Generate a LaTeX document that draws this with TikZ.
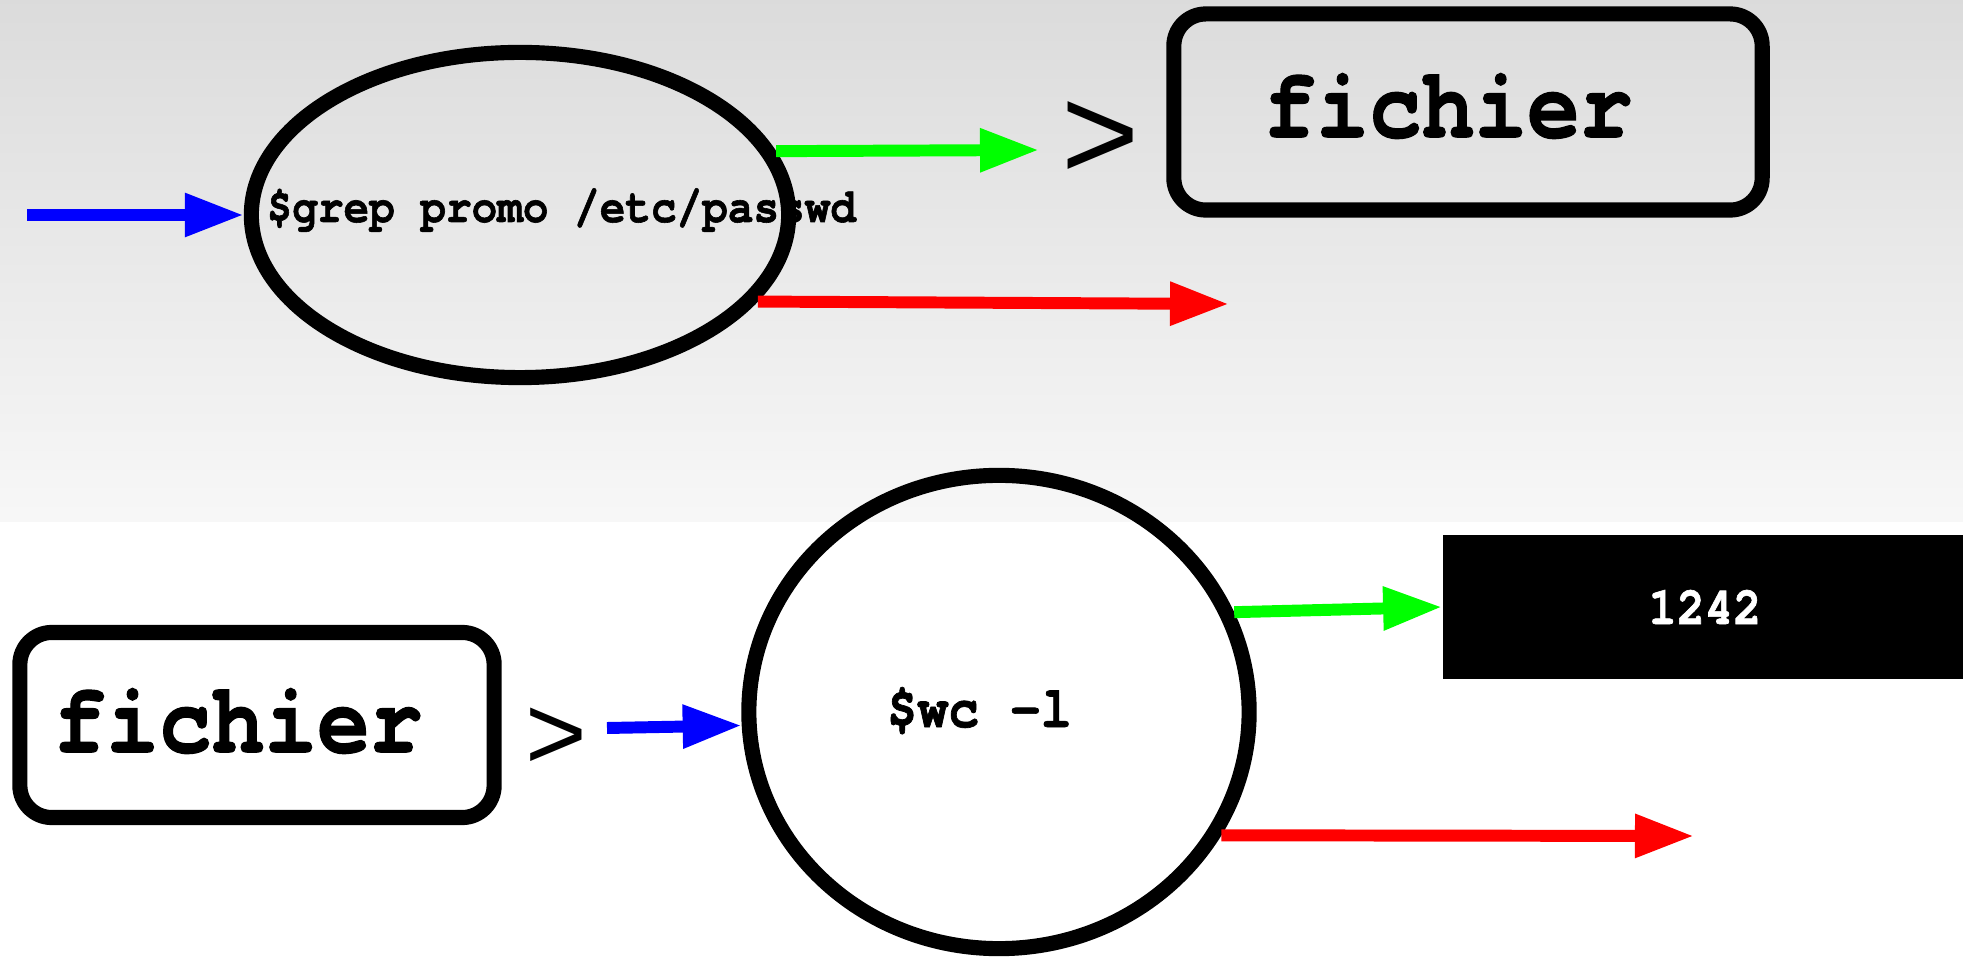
\documentclass[tikz,border=0pt]{standalone}
\usepackage{fontspec}
\setmonofont{texgyrecursor}[Extension=.otf,UprightFont=*-regular,BoldFont=*-bold,
  BoldFeatures={FakeBold=1.2},Ligatures=NoCommon,FakeStretch=0.88]
\setsansfont{Liberation Sans}
\usetikzlibrary{positioning,arrows.meta,shapes.geometric}

\begin{document}
\begin{tikzpicture}[x=0.01cm,y=-0.01cm]
% Background
\useasboundingbox (0,0) rectangle (1963,958);
\fill[white] (0,0) rectangle (1963,958);
\shade[top color=black!14,bottom color=black!3] (0,0) rectangle (1963,522);
% Draw the two pipelines
   \begin{scope}[ >={Triangle[length=5.9mm,width=4.1mm]},
                   cmdshape/.style={ellipse,draw,line width=4.3pt},
                   filebox/.style={rectangle,draw,line width=4.3pt,rounded corners=3.2mm},
                   flow/.style={->,line width=3.4pt},
                   monotxt/.style={font=\ttfamily\bfseries\fontsize{#1}{#1}\selectfont},
                   redir/.style={inner sep=0,font=\sffamily\fontsize{#1}{#1}\selectfont} ]
     % grep > fichier
     \node [cmdshape,minimum width=5.37cm,minimum height=3.25cm] (grep) at (520,215) {};
     \node [monotxt=13.8pt,anchor=base west,inner sep=0] (grepcmd) at (266,222) {\$grep promo /etc/passwd};
     \node [filebox,minimum width=5.88cm,minimum height=1.96cm] (outfile) at (1468,112) {};
     \node [monotxt=28.4pt] (outname) at (1448,106) {fichier};
     \node [redir=38pt] (redirtop) at (1101,141) {>};
     \coordinate (grepin)  at (27,215);
     \coordinate (grepout) at (1039,150);
     \coordinate (greperr) at (1229,304);
     \draw [flow,blue]  (grepin) -- (grep.west);
     \draw [flow,green] (grep.14) -- (grepout);
     \draw [flow,red]   (grep.-20) -- (greperr);
     % wc -l < fichier
     \node [filebox,minimum width=4.74cm,minimum height=1.85cm] (infile) at (257,725) {};
     \node [monotxt=28.4pt] (inname) at (238,721) {fichier};
     \node [redir=30pt] (redirbot) at (556,739) {>};
     \node [cmdshape,minimum width=5cm,minimum height=4.73cm] (wc) at (999,712) {};
     \node [monotxt=16.6pt,anchor=base west,inner sep=0] (wccmd) at (886,727) {\$wc -l};
     \node [fill=black,text=white,minimum width=5.24cm,minimum height=1.44cm,monotxt=15.2pt] (count) at (1705,607) {1242};
     \coordinate (wcin)  at (607,728);
     \coordinate (wcerr) at (1694,836);
     \draw [flow,blue]  (wcin) -- (wc.183);
     \draw [flow,green] (wc.23) -- (count.west);
     \draw [flow,red]   (wc.-29) -- (wcerr);
   \end{scope}
\end{tikzpicture}
\end{document}
